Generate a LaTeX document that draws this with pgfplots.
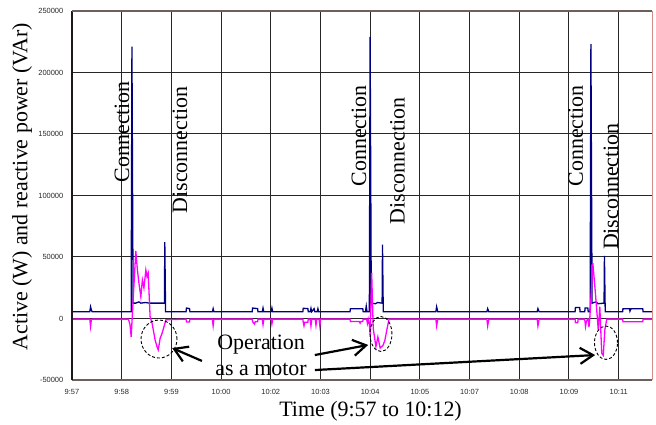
\documentclass[border=0pt]{standalone}
\usepackage{fontspec}
\setmainfont{Liberation Serif}
\newfontfamily\arialfont{Liberation Sans}
\usepackage{pgfplots}
\pgfplotsset{compat=1.18}
\usetikzlibrary{arrows.meta}
\definecolor{pnavy}{RGB}{0,0,128}
\definecolor{pmag}{RGB}{255,0,255}
\definecolor{framegray}{RGB}{110,95,92}
\definecolor{framered}{RGB}{215,140,140}
\begin{document}
\begin{tikzpicture}
\path[use as bounding box] (0,0) rectangle (656bp,425bp);
\begin{axis}[
  at={(72bp,45bp)}, anchor=south west,
  scale only axis, width=580bp, height=369bp,
  xmin=0, xmax=15, ymin=-50000, ymax=250000,
  xtick={0,1.2853,2.5706,3.8559,5.1412,6.4265,7.7118,8.9971,10.2824,11.5677,12.853,14.1383},
  xticklabels={9:57,9:58,9:59,10:00,10:02,10:03,10:04,10:05,10:07,10:08,10:09,10:11},
  ytick={-50000,0,50000,100000,150000,200000,250000},
  yticklabels={-50000,0,50000,100000,150000,200000,250000},
  major tick length=0pt,
  tick label style={font=\arialfont\fontsize{7.5}{8}\selectfont, text=black!85, inner sep=0pt},
  yticklabel style={anchor=east, xshift=-8.5bp},
  xticklabel style={anchor=center, yshift=-11.7bp},
  grid=major,
  major grid style={black!85, line width=1bp},
  axis line style={draw=none},
  xlabel={Time (9:57 to 10:12)},
  ylabel={Active (W) and reactive power (VAr)},
  label style={font=\fontsize{22}{26}\selectfont},
  xlabel style={at={(axis description cs:0.5147,-0.0859)}, anchor=center},
  ylabel style={at={(axis description cs:-0.0862,0.524)}, anchor=center},
  clip=false,
]
% Active power (W)
\addplot[pnavy, line width=1.3bp] coordinates {
(0,5500) (0.46,5500) (0.48,9500) (0.50,7000) (0.52,5500) (1.53,5500) (1.55,221000) (1.58,12500)
(1.65,12500) (1.73,13500) (1.78,12500) (1.90,13000) (2.00,12500) (2.39,12500) (2.40,62000) (2.42,5500)
(2.95,5500) (2.96,8500) (3.04,8000) (3.05,5500) (3.63,5500) (3.65,8000) (3.67,5500)
(4.66,5500) (4.67,8500) (4.80,8000) (4.81,5500) (4.92,5500) (4.94,8500) (4.96,5500)
(5.15,5500) (5.17,8500) (5.19,5500) (5.97,5500) (5.98,8300) (6.10,8000) (6.11,5500)
(6.16,5500) (6.18,8300) (6.20,5500) (6.26,8000) (6.28,5500) (6.34,5500) (6.36,8000) (6.38,5500)
(7.19,5500) (7.20,8000) (7.52,8000) (7.53,5500) (7.59,5500) (7.61,10000) (7.63,5500)
(7.69,5500) (7.71,229000) (7.74,12500) (7.85,12000) (7.90,13000) (8.02,12500) (8.03,60000) (8.05,5500)
(9.41,5500) (9.43,9500) (9.46,5500) (10.73,5500) (10.75,8000) (10.78,5500)
(12.03,5500) (12.05,8000) (12.08,5500) (13.01,5500) (13.02,9000) (13.13,9000) (13.14,5500)
(13.26,5500) (13.27,8500) (13.34,8500) (13.35,5500) (13.40,5500) (13.42,223000) (13.45,12500)
(13.55,13500) (13.60,12000) (13.76,12500) (13.77,51000) (13.79,5500)
(14.24,5500) (14.25,8000) (14.42,8000) (14.43,6000) (14.46,8000) (14.76,8000) (14.77,5500) (15,5500)
};
% Reactive power (VAr)
\addplot[pmag, line width=1.3bp] coordinates {
(0,-500) (0.46,-500) (0.48,-6500) (0.50,-1000) (0.52,-500) (1.46,-500) (1.50,-5000) (1.53,-15000)
(1.65,55000) (1.69,40000) (1.73,29000) (1.78,17700) (1.82,31300) (1.86,24800) (1.91,39400)
(1.94,34000) (1.97,37000) (2.02,1500) (2.07,-3700) (2.15,-17500) (2.20,-23000) (2.23,-25500)
(2.26,-20000) (2.28,-16000) (2.33,-12000) (2.38,-6600) (2.43,-1000)
(2.95,-500) (2.96,-2800) (3.04,-2800) (3.05,-500) (3.63,-500) (3.65,-6000) (3.67,-500)
(4.66,-500) (4.67,-2600) (4.72,-4500) (4.74,-2600) (4.80,-2600) (4.81,-500)
(4.92,-500) (4.94,-5000) (4.96,-500) (5.15,-500) (5.17,-4500) (5.19,-500)
(5.97,-500) (5.98,-3000) (6.00,-6000) (6.02,-3000) (6.10,-3000) (6.11,-500)
(6.16,-500) (6.18,-6000) (6.20,-500) (6.29,-500) (6.31,-5500) (6.33,-500) (6.39,-500) (6.41,-6000) (6.43,-500)
(7.19,-500) (7.20,-2500) (7.43,-2500) (7.45,-3800) (7.47,-2500) (7.52,-2500) (7.53,-500)
(7.62,-500) (7.64,-4000) (7.66,-500) (7.69,-5000) (7.71,-13000) (7.75,37000) (7.79,-8000)
(7.86,-23000) (7.91,-15000) (7.97,-24000) (8.04,-22000) (8.09,-18000) (8.15,-8000) (8.20,-500)
(9.41,-500) (9.43,-6000) (9.46,-500) (10.73,-500) (10.75,-6000) (10.78,-500)
(12.03,-500) (12.05,-6000) (12.08,-500) (13.01,-500) (13.02,-3400) (13.08,-3400) (13.09,-500)
(13.26,-500) (13.28,-6600) (13.30,-3000) (13.33,-500) (13.35,-500) (13.37,-7000) (13.39,-500)
(13.47,45000) (13.53,23000) (13.57,7000) (13.61,-9300) (13.65,9600) (13.70,-28300) (13.74,-30000)
(13.78,-9300) (13.83,-500) (14.24,-500) (14.25,-2600) (14.76,-2600) (14.77,-500) (15,-500)
};
% frame
\draw[framegray, line width=2bp] (axis description cs:0,0) -- (axis description cs:1,0);
\draw[black!75!framegray, line width=2bp] (axis description cs:0,0) -- (axis description cs:0,1);
\draw[framegray, line width=1.5bp] (axis description cs:0,1) -- (axis description cs:1,1);
\draw[framered, line width=1bp] (axis description cs:1,0) -- (axis description cs:1,1);
% annotations
\tikzset{big/.style={font=\fontsize{22}{26}\selectfont}}
\node[big, rotate=90] at (axis cs:1.29,151900) {Connection};
\node[big, rotate=90] at (axis cs:2.79,137000) {Disconnection};
\node[big, rotate=90] at (axis cs:7.42,148400) {Connection};
\node[big, rotate=90] at (axis cs:8.42,128000) {Disconnection};
\node[big, rotate=90] at (axis cs:13.03,148400) {Connection};
\node[big, rotate=90] at (axis cs:13.94,107200) {Disconnection};
\node[big] at (axis cs:4.89,-21500) {Operation};
\node[big] at (axis cs:4.89,-41800) {as a motor};
\draw[black, dash pattern=on 3bp off 2bp, line width=0.9bp] (axis cs:2.25,-16700) ellipse [x radius=18bp, y radius=19bp];
\draw[black, dash pattern=on 3bp off 2bp, line width=0.9bp] (axis cs:7.99,-12600) ellipse [x radius=11bp, y radius=17.5bp];
\draw[black, dash pattern=on 3bp off 2bp, line width=0.9bp] (axis cs:13.81,-19700) ellipse [x radius=11.5bp, y radius=16.7bp];
\draw[black, line width=2.2bp, -{Straight Barb[length=13bp,width=16bp]}] (axis cs:3.36,-34500) -- (axis cs:2.59,-24000);
\draw[black, line width=2.2bp, -{Straight Barb[length=13bp,width=16bp]}] (axis cs:6.28,-29700) -- (axis cs:7.66,-21500);
\draw[black, line width=2.2bp, -{Straight Barb[length=13bp,width=16bp]}] (axis cs:6.28,-41900) -- (axis cs:13.53,-29700);
\end{axis}
\end{tikzpicture}
\end{document}
